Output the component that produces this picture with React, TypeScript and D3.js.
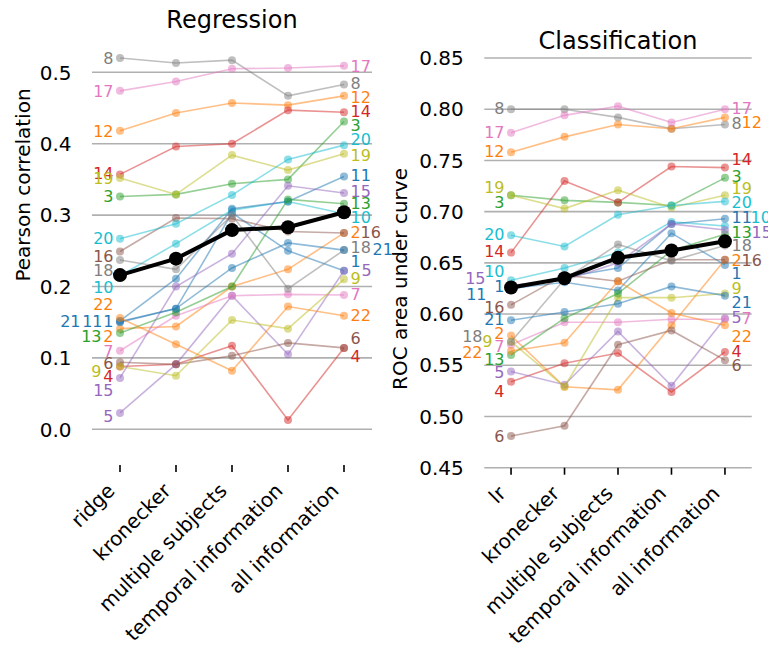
import React from "react";
import * as d3 from "d3";

// ---------- data ----------
const subjectIds = ["1","2","3","4","5","6","7","8","9","10","11","12","13","14","15","16","17","18","19","20","21","22"];

const regCategories = ["ridge", "kronecker", "multiple subjects", "temporal information", "all information"];
const clsCategories = ["lr", "kronecker", "multiple subjects", "temporal information", "all information"];

const regTicks = [0.0, 0.1, 0.2, 0.3, 0.4, 0.5];
const clsTicks = [0.45, 0.5, 0.55, 0.6, 0.65, 0.7, 0.75, 0.8, 0.85];

// Pearson correlation per subject (1..22), per condition
const regSeries: number[][] = [
  [0.151, 0.169, 0.303, 0.250, 0.222],
  [0.141, 0.144, 0.200, 0.224, 0.275],
  [0.326, 0.329, 0.344, 0.350, 0.431],
  [0.088, 0.091, 0.117, 0.013, 0.114],
  [0.023, 0.091, 0.187, 0.105, 0.222],
  [0.094, 0.091, 0.103, 0.121, 0.114],
  [0.110, 0.159, 0.187, 0.189, 0.188],
  [0.520, 0.513, 0.517, 0.467, 0.483],
  [0.088, 0.075, 0.153, 0.141, 0.210],
  [0.215, 0.260, 0.307, 0.319, 0.302],
  [0.152, 0.211, 0.309, 0.319, 0.354],
  [0.418, 0.443, 0.457, 0.454, 0.467],
  [0.135, 0.164, 0.200, 0.322, 0.316],
  [0.357, 0.396, 0.400, 0.447, 0.444],
  [0.072, 0.200, 0.246, 0.341, 0.331],
  [0.249, 0.296, 0.295, 0.277, 0.275],
  [0.474, 0.487, 0.505, 0.506, 0.509],
  [0.237, 0.224, 0.300, 0.197, 0.251],
  [0.352, 0.329, 0.384, 0.363, 0.386],
  [0.267, 0.288, 0.328, 0.378, 0.398],
  [0.150, 0.169, 0.226, 0.261, 0.251],
  [0.156, 0.119, 0.082, 0.172, 0.159],
];
const regMean = [0.216, 0.239, 0.279, 0.283, 0.304];

// ROC AUC per subject (1..22), per condition
const clsSeries: number[][] = [
  [0.625, 0.631, 0.623, 0.679, 0.648],
  [0.579, 0.529, 0.526, 0.589, 0.653],
  [0.716, 0.711, 0.709, 0.706, 0.733],
  [0.534, 0.552, 0.562, 0.524, 0.563],
  [0.544, 0.531, 0.583, 0.530, 0.596],
  [0.481, 0.491, 0.570, 0.584, 0.555],
  [0.570, 0.592, 0.592, 0.595, 0.595],
  [0.800, 0.800, 0.792, 0.781, 0.785],
  [0.573, 0.529, 0.616, 0.616, 0.620],
  [0.633, 0.645, 0.660, 0.690, 0.686],
  [0.624, 0.636, 0.645, 0.688, 0.693],
  [0.758, 0.773, 0.785, 0.781, 0.792],
  [0.560, 0.596, 0.620, 0.662, 0.678],
  [0.660, 0.730, 0.709, 0.744, 0.743],
  [0.628, 0.633, 0.650, 0.688, 0.682],
  [0.609, 0.638, 0.632, 0.653, 0.653],
  [0.777, 0.794, 0.803, 0.787, 0.800],
  [0.573, 0.634, 0.668, 0.652, 0.667],
  [0.716, 0.703, 0.721, 0.704, 0.716],
  [0.677, 0.666, 0.697, 0.706, 0.710],
  [0.594, 0.602, 0.610, 0.627, 0.618],
  [0.564, 0.572, 0.632, 0.601, 0.589],
];
const clsMean = [0.626, 0.635, 0.655, 0.662, 0.671];

// ---------- label placement (subject index, label value in data units, horizontal nudge px) ----------
type LabelSpec = [number, number, number];
const regStartLabels: LabelSpec[] = [
  [7, 0.520, 0], [16, 0.474, 0], [11, 0.418, 0], [13, 0.358, 0], [18, 0.352, 0], [2, 0.326, 0],
  [19, 0.268, 0], [15, 0.243, 0], [17, 0.223, 0], [9, 0.199, 0], [21, 0.175, 0],
  [20, 0.151, -33], [10, 0.151, -11], [0, 0.151, 0], [12, 0.131, -12], [1, 0.131, 0],
  [6, 0.110, 0], [5, 0.093, 0], [8, 0.081, -12], [3, 0.074, 0], [14, 0.055, 0], [4, 0.018, 0],
];
const regEndLabels: LabelSpec[] = [
  [16, 0.509, 0], [7, 0.485, 0], [11, 0.465, 0], [13, 0.445, 0], [2, 0.426, 0], [19, 0.406, 0],
  [18, 0.384, 0], [10, 0.356, 0], [14, 0.333, 0], [12, 0.317, 0], [9, 0.297, 0],
  [1, 0.276, 0], [15, 0.276, 10], [17, 0.255, 0], [20, 0.252, 22], [0, 0.236, 0], [4, 0.223, 11],
  [8, 0.211, 0], [6, 0.189, 0], [21, 0.160, 0], [5, 0.127, 0], [3, 0.103, 0],
];
const clsStartLabels: LabelSpec[] = [
  [7, 0.801, 0], [16, 0.778, 0], [11, 0.759, 0], [18, 0.724, 0], [2, 0.709, 0], [19, 0.678, 0],
  [13, 0.661, 0], [9, 0.642, 0], [14, 0.635, -19], [0, 0.627, 0], [10, 0.619, -18], [15, 0.607, 0],
  [20, 0.595, 0], [1, 0.581, 0], [17, 0.578, -22], [8, 0.573, -12], [6, 0.569, 0], [21, 0.563, -22],
  [12, 0.556, 0], [4, 0.543, 0], [3, 0.525, 0], [5, 0.481, 0],
];
const clsEndLabels: LabelSpec[] = [
  [16, 0.801, 0], [7, 0.786, 0], [11, 0.787, 10], [13, 0.751, 0], [2, 0.735, 0], [18, 0.723, 0],
  [19, 0.709, 0], [10, 0.695, 0], [9, 0.695, 19], [12, 0.680, 0], [14, 0.680, 20], [17, 0.667, 0],
  [1, 0.653, 0], [15, 0.653, 10], [0, 0.640, 0], [8, 0.625, 0], [20, 0.612, 0], [4, 0.597, 0],
  [6, 0.596, 10], [21, 0.578, 0], [3, 0.564, 0], [5, 0.550, 0],
];

const palette = d3.schemeCategory10;
const FONT = "DejaVu Sans, sans-serif";

type PanelProps = {
  title: string;
  ylabel: string;
  categories: string[];
  series: number[][];
  mean: number[];
  ticks: number[];
  fmt: (v: number) => string;
  yLim: [number, number];
  left: number;
  right: number;
  bottom: number;
  top: number;
  ylabelX: number;
  ylabelY: number;
  startLabels: LabelSpec[];
  endLabels: LabelSpec[];
};

function Panel(p: PanelProps) {
  const x = d3.scalePoint<string>().domain(p.categories).range([p.left, p.right]).padding(0.5);
  const y = d3.scaleLinear().domain(p.yLim).range([p.bottom, p.top]);
  const line = d3
    .line<number>()
    .x((_, i) => x(p.categories[i]) as number)
    .y((d) => y(d));
  const firstX = x(p.categories[0]) as number;
  const lastX = x(p.categories[p.categories.length - 1]) as number;
  const cx = (p.left + p.right) / 2;

  return (
    <g>
      {/* grid */}
      {p.ticks.map((t) => (
        <g key={"g" + t}>
          <line x1={p.left} x2={p.right} y1={y(t)} y2={y(t)} stroke="#b0b0b0" strokeWidth={1.6} />
          <text x={p.left - 20.5} y={y(t)} dy="0.36em" textAnchor="end" fontSize={20} fontFamily={FONT} fill="#000">
            {p.fmt(t)}
          </text>
        </g>
      ))}
      {/* x ticks */}
      {p.categories.map((c) => (
        <g key={"x" + c}>
          <line x1={x(c)} x2={x(c)} y1={p.bottom} y2={p.bottom + 7} stroke="#000" strokeWidth={1.6} />
          <text
            transform={`translate(${(x(c) as number) - 4},${p.bottom + 27}) rotate(-45)`}
            textAnchor="end"
            fontSize={20}
            fontFamily={FONT}
            fill="#000"
          >
            {c}
          </text>
        </g>
      ))}
      {/* subject lines */}
      {p.series.map((s, i) => (
        <g key={"s" + i} opacity={1}>
          <path d={line(s) || ""} fill="none" stroke={palette[i % 10]} strokeOpacity={0.5} strokeWidth={1.6} />
          {s.map((v, j) => (
            <circle key={j} cx={x(p.categories[j])} cy={y(v)} r={4} fill={palette[i % 10]} fillOpacity={0.5} />
          ))}
        </g>
      ))}
      {/* mean */}
      <path d={line(p.mean) || ""} fill="none" stroke="#000" strokeWidth={4} />
      {p.mean.map((v, j) => (
        <circle key={"m" + j} cx={x(p.categories[j])} cy={y(v)} r={7} fill="#000" />
      ))}
      {/* labels */}
      {p.startLabels.map(([si, v, dx]) => (
        <text
          key={"ls" + si}
          x={firstX - 6.5 + dx}
          y={y(v)}
          dy="0.36em"
          textAnchor="end"
          fontSize={16}
          fontFamily={FONT}
          fill={palette[si % 10]}
        >
          {subjectIds[si]}
        </text>
      ))}
      {p.endLabels.map(([si, v, dx]) => (
        <text
          key={"le" + si}
          x={lastX + 6.5 + dx}
          y={y(v)}
          dy="0.36em"
          textAnchor="start"
          fontSize={16}
          fontFamily={FONT}
          fill={palette[si % 10]}
        >
          {subjectIds[si]}
        </text>
      ))}
      {/* title */}
      <text x={cx} y={p.top - 8.6} textAnchor="middle" fontSize={24} fontFamily={FONT} fill="#000">
        {p.title}
      </text>
      {/* ylabel */}
      <text
        transform={`translate(${p.ylabelX},${p.ylabelY}) rotate(-90)`}
        dy="0.36em"
        textAnchor="middle"
        fontSize={20}
        fontFamily={FONT}
        fill="#000"
      >
        {p.ylabel}
      </text>
    </g>
  );
}

export default function App() {
  return (
    <svg
      width={768}
      height={657}
      viewBox="0 0 768 657"
      style={{ position: "absolute", left: 0, top: 0, display: "block", background: "#fff" }}
    >
      <rect width={768} height={657} fill="#fff" />
      <Panel
        title="Regression"
        ylabel="Pearson correlation"
        categories={regCategories}
        series={regSeries}
        mean={regMean}
        ticks={regTicks}
        fmt={d3.format(".1f")}
        yLim={[-0.05, 0.55]}
        left={92}
        right={372}
        bottom={465}
        top={36.6}
        ylabelX={23}
        ylabelY={185}
        startLabels={regStartLabels}
        endLabels={regEndLabels}
      />
      <Panel
        title="Classification"
        ylabel="ROC area under curve"
        categories={clsCategories}
        series={clsSeries}
        mean={clsMean}
        ticks={clsTicks}
        fmt={d3.format(".2f")}
        yLim={[0.45, 0.85]}
        left={484.3}
        right={751.7}
        bottom={467.7}
        top={58}
        ylabelX={400}
        ylabelY={279}
        startLabels={clsStartLabels}
        endLabels={clsEndLabels}
      />
    </svg>
  );
}
